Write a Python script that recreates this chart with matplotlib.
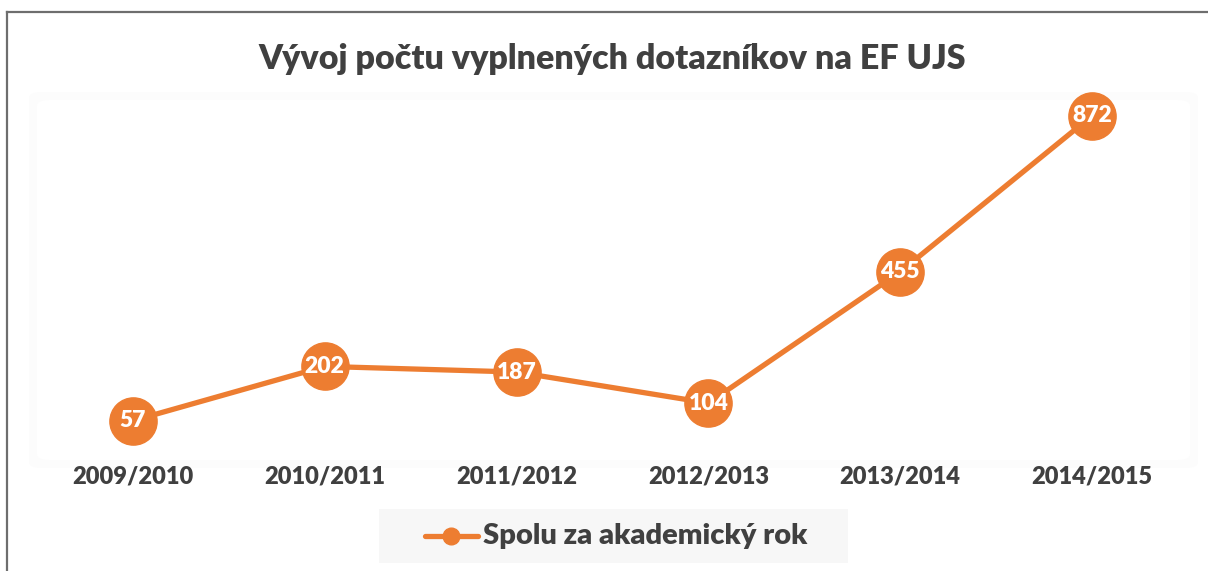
import matplotlib
matplotlib.use("Agg")
import matplotlib.pyplot as plt
from matplotlib.patches import FancyBboxPatch, Rectangle
from matplotlib.lines import Line2D

years = ["2009/2010", "2010/2011", "2011/2012", "2012/2013", "2013/2014", "2014/2015"]
counts = [57, 202, 187, 104, 455, 872]
series_name = "Spolu za akademický rok"
title = "Vývoj počtu vyplnených dotazníkov na EF UJS"

orange = "#ED7D31"
dark = "#404040"
W, H = 1208, 571

plt.rcParams['font.family'] = ['Lato', 'DejaVu Sans']

fig = plt.figure(figsize=(W / 100, H / 100), dpi=100)

def px(x, y, w, h):
  # pixel box (top-left origin) to figure fraction
  return [x / W, 1 - (y + h) / H, w / W, h / H]

# outer chart border (left and top visible)
fig.add_artist(Line2D([7.5 / W, 7.5 / W], [0, 1 - 11.5 / H], color="#6e6e6e", lw=1.6, transform=fig.transFigure))
fig.add_artist(Line2D([7.5 / W, 1], [1 - 11.5 / H, 1 - 11.5 / H], color="#6e6e6e", lw=1.6, transform=fig.transFigure))

# soft plot area panel
for pad, col in [(8, "#fcfcfc"), (0, "#ffffff")]:
  b = px(37 - pad, 100 - pad, 1153 + 2 * pad, 360 + 2 * pad)
  fig.add_artist(FancyBboxPatch((b[0], b[1]), b[2], b[3], boxstyle="round,pad=0,rounding_size=0.01",
                                transform=fig.transFigure, fc=col, ec="none", zorder=0))

ax = fig.add_axes(px(37, 100, 1151, 342))
ax.set_xlim(-0.5, len(years) - 0.5)
ax.set_ylim(0, 914)
ax.patch.set_alpha(0)
for s in ax.spines.values():
  s.set_visible(False)
ax.set_yticks([])
ax.set_xticks(range(len(years)))
ax.set_xticklabels(years, fontsize=17, fontweight="heavy", color=dark)
ax.tick_params(axis="x", length=0, pad=17)

xs = list(range(len(years)))
ax.plot(xs, counts, color=orange, lw=3.8, marker="o", ms=34, mfc=orange, mec=orange,
        solid_capstyle="round", clip_on=False, zorder=3)
for x, v in zip(xs, counts):
  ax.text(x, v, str(v), ha="center", va="center", color="white", fontsize=16.5,
          fontweight="heavy", zorder=4)

fig.text(612 / W, 1 - 59 / H, title, ha="center", va="center", fontsize=24.5,
         fontweight="heavy", color=dark)

# legend box
b = px(379, 509, 469, 54)
fig.add_artist(Rectangle((b[0], b[1]), b[2], b[3], transform=fig.transFigure, fc="#f7f7f7", ec="none"))
ly = 1 - 536 / H
fig.add_artist(Line2D([425 / W, 478 / W], [ly, ly], color=orange, lw=3.8, solid_capstyle="round",
                      transform=fig.transFigure))
fig.add_artist(Line2D([451 / W], [ly], marker="o", ms=12, color=orange, transform=fig.transFigure))
fig.text(483 / W, ly, series_name, ha="left", va="center", fontsize=21, fontweight="heavy", color=dark)

fig.savefig("out.png", dpi=100)
